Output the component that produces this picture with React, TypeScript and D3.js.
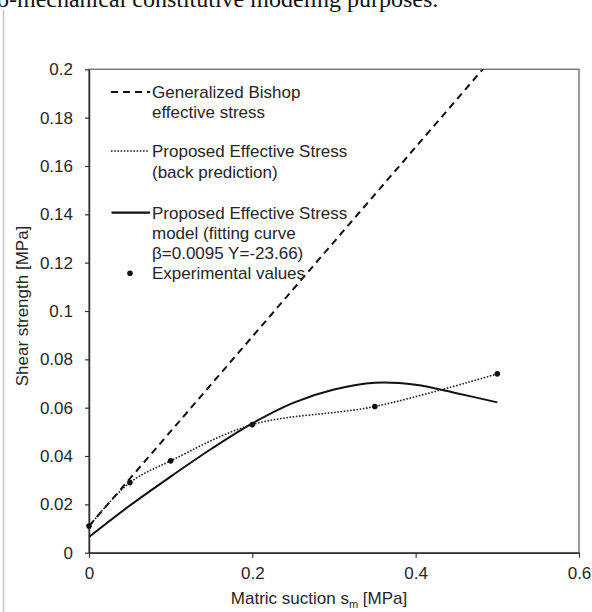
import React, { useRef, useEffect } from 'react';
import { select, scaleLinear, axisLeft, axisBottom, line, curveCatmullRom } from 'd3';

// experimental values
const suction = [0, 0.05, 0.1, 0.2, 0.35, 0.5];
const experimental = [0.011, 0.029, 0.038, 0.053, 0.0605, 0.074];

// generalized Bishop effective stress (straight line)
const bishopX = [0, 0.5];
const bishopY = [0.011, 0.207];

// proposed effective stress model, fitting curve
const fitX = [0, 0.05, 0.1, 0.15, 0.2, 0.25, 0.3, 0.35, 0.4, 0.45, 0.5];
const fitY = [0.0065, 0.0195, 0.0315, 0.043, 0.0535, 0.062, 0.0675, 0.0703, 0.0695, 0.066, 0.0622];

const xTicks = [0, 0.2, 0.4, 0.6];
const xTickLabels = ['0', '0.2', '0.4', '0.6'];
const yTicks = [0, 0.02, 0.04, 0.06, 0.08, 0.1, 0.12, 0.14, 0.16, 0.18, 0.2];
const yTickLabels = ['0', '0.02', '0.04', '0.06', '0.08', '0.1', '0.12', '0.14', '0.16', '0.18', '0.2'];

const legendLabels = [
  ['Generalized Bishop', 'effective stress'],
  ['Proposed Effective Stress', '(back prediction)'],
  ['Proposed Effective Stress', 'model (fitting curve', 'β=0.0095 Υ=-23.66)'],
  ['Experimental values'],
];

const FONT = '"Liberation Sans", Arial, sans-serif';
const INK = '#262626';

function App() {
  const svgRef = useRef(null);

  useEffect(() => {
    const svg = select(svgRef.current);
    svg.selectAll('*').remove();

    const x = scaleLinear().domain([0, 0.6]).range([89, 579]);
    const y = scaleLinear().domain([0, 0.2]).range([552.7, 69.3]);

    // page leftovers: cut text line and gray margin rule
    svg.append('text')
      .attr('x', -3).attr('y', 7)
      .attr('font-family', '"Liberation Serif", "Times New Roman", serif')
      .attr('font-size', 24).attr('fill', '#111')
      .text('o-mechanical constitutive modeling purposes.');
    svg.append('line')
      .attr('x1', 3.5).attr('x2', 3.5).attr('y1', 10).attr('y2', 612)
      .attr('stroke', '#c4c4c4').attr('stroke-width', 1.5);

    svg.append('clipPath').attr('id', 'plot-clip')
      .append('rect')
      .attr('x', x(0)).attr('y', y(0.2))
      .attr('width', x(0.6) - x(0)).attr('height', y(0) - y(0.2));

    // frame
    svg.append('rect')
      .attr('x', x(0)).attr('y', y(0.2))
      .attr('width', x(0.6) - x(0)).attr('height', y(0) - y(0.2))
      .attr('fill', 'none').attr('stroke', '#7a7a7a').attr('stroke-width', 1.5);

    const yAxis = axisLeft(y).tickValues(yTicks).tickSize(4).tickSizeOuter(0).tickPadding(12)
      .tickFormat((d, i) => yTickLabels[i]);
    const xAxis = axisBottom(x).tickValues(xTicks).tickSize(5).tickSizeOuter(0).tickPadding(9.5)
      .tickFormat((d, i) => xTickLabels[i]);

    const gy = svg.append('g').attr('transform', `translate(${x(0)},0)`).call(yAxis);
    const gx = svg.append('g').attr('transform', `translate(0,${y(0)})`).call(xAxis);
    [gx, gy].forEach(g => {
      g.select('.domain').attr('stroke', '#333').attr('stroke-width', 1.5);
      g.selectAll('.tick line').attr('stroke', '#333').attr('stroke-width', 1.2);
      g.selectAll('.tick text').attr('font-family', FONT).attr('font-size', 17).attr('fill', INK);
    });

    // axis titles
    const xt = svg.append('text')
      .attr('x', 319).attr('y', 604)
      .attr('text-anchor', 'middle')
      .attr('font-family', FONT).attr('font-size', 17).attr('fill', INK);
    xt.append('tspan').text('Matric suction s');
    xt.append('tspan').attr('font-size', 11).attr('dy', 4).text('m');
    xt.append('tspan').attr('dy', -4).text(' [MPa]');

    svg.append('text')
      .attr('transform', 'translate(28,306) rotate(-90)')
      .attr('text-anchor', 'middle')
      .attr('font-family', FONT).attr('font-size', 17).attr('fill', INK)
      .text('Shear strength [MPa]');

    const plot = svg.append('g').attr('clip-path', 'url(#plot-clip)');

    const bishopLine = line().x(d => x(d[0])).y(d => y(d[1]));
    plot.append('path')
      .attr('d', bishopLine(bishopX.map((v, i) => [v, bishopY[i]])))
      .attr('fill', 'none').attr('stroke', '#111').attr('stroke-width', 2)
      .attr('stroke-dasharray', '7,5');

    const fitLine = line().x(d => x(d[0])).y(d => y(d[1])).curve(curveCatmullRom);
    plot.append('path')
      .attr('d', fitLine(fitX.map((v, i) => [v, fitY[i]])))
      .attr('fill', 'none').attr('stroke', '#111').attr('stroke-width', 2);

    const backLine = line().x(d => x(d[0])).y(d => y(d[1])).curve(curveCatmullRom);
    plot.append('path')
      .attr('d', backLine(suction.map((v, i) => [v, experimental[i]])))
      .attr('fill', 'none').attr('stroke', '#222').attr('stroke-width', 1.6)
      .attr('stroke-dasharray', '1.6,1.6');

    svg.append('g').selectAll('circle')
      .data(suction)
      .join('circle')
      .attr('cx', d => x(d))
      .attr('cy', (d, i) => y(experimental[i]))
      .attr('r', 2.8)
      .attr('fill', '#111');

    // legend
    const lg = svg.append('g');
    const rowY = [[92, 111.5], [151, 171.5], [212.7, 233, 253.3], [273.3]];
    const sampleY = [92, 151, 212.7, 273.3];
    lg.append('line').attr('x1', 111).attr('x2', 150).attr('y1', sampleY[0]).attr('y2', sampleY[0])
      .attr('stroke', '#111').attr('stroke-width', 2).attr('stroke-dasharray', '7,5');
    lg.append('line').attr('x1', 111).attr('x2', 148).attr('y1', sampleY[1]).attr('y2', sampleY[1])
      .attr('stroke', '#222').attr('stroke-width', 1.4).attr('stroke-dasharray', '1.6,1.6');
    lg.append('line').attr('x1', 111.5).attr('x2', 150).attr('y1', sampleY[2]).attr('y2', sampleY[2])
      .attr('stroke', '#111').attr('stroke-width', 2.2);
    lg.append('circle').attr('cx', 130).attr('cy', sampleY[3]).attr('r', 2.8).attr('fill', '#111');

    legendLabels.forEach((rows, k) => {
      rows.forEach((t, j) => {
        lg.append('text')
          .attr('x', 152).attr('y', rowY[k][j] + 6)
          .attr('font-family', FONT).attr('font-size', 17).attr('fill', INK)
          .text(t);
      });
    });
  }, []);

  return (
    <svg ref={svgRef} width={592} height={612}
      style={{ position: 'absolute', left: 0, top: 0, background: '#fff' }} />
  );
}

export default App;
